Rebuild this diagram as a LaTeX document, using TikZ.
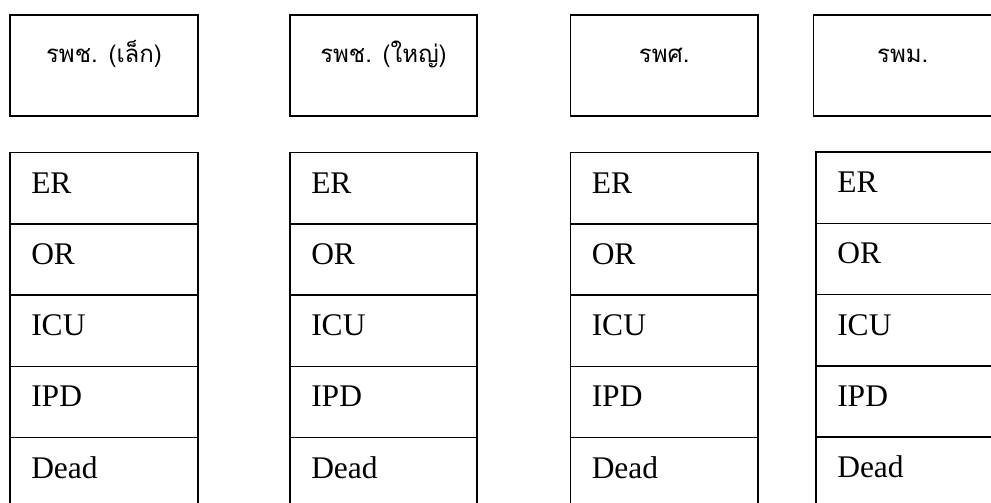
\documentclass[tikz,border=0pt]{standalone}
\usepackage{fontspec}
\setmainfont{Liberation Serif}
\newfontfamily\thaifont[Script=Thai]{Loma}
\begin{document}
\begin{tikzpicture}[x=1pt,y=-1pt,line width=1.5pt,
  hbox/.style={draw,rectangle,anchor=north west,inner sep=0pt,outer sep=0pt,minimum height=101pt},
  rowbox/.style={draw,rectangle,anchor=north west,inner sep=0pt,outer sep=0pt,minimum height=71.25pt},
  htext/.style={anchor=base,inner sep=0pt,font=\thaifont\fontsize{24}{28}\selectfont},
  rtext/.style={anchor=base west,inner sep=0pt,font=\fontsize{31.5}{36}\selectfont}]
\useasboundingbox (0,0) rectangle (991,503);
\clip (0,0) rectangle (991,503);
\foreach \c/\ha/\hb/\ta/\tb/\ty/\name in {
  1/10/198/10/198/152.7/{รพช. (เล็ก)},
  2/290/477/290/477/152.7/{รพช. (ใหญ่)},
  3/570.5/758/570.5/758/152.7/{รพศ.},
  4/813.5/992/816/992/152/{รพม.}}{
  \pgfmathsetmacro{\hw}{\hb-\ha}
  \pgfmathsetmacro{\tw}{\tb-\ta}
  \node[hbox,minimum width=\hw pt] (h\c) at (\ha,15) {};
  \node[htext] (ht\c) at ({(\ha+\hb)/2},63) {\name};
  \foreach \lab [count=\j from 0] in {ER,OR,ICU,IPD,Dead}{
    \node[rowbox,minimum width=\tw pt] (r\c-\j) at (\ta,{\ty+\j*71.25}) {};
    \node[rtext] (t\c-\j) at ({\ta+20.5},{\ty+\j*71.25+40.5}) {\lab};
  }
}
\end{tikzpicture}
\end{document}
